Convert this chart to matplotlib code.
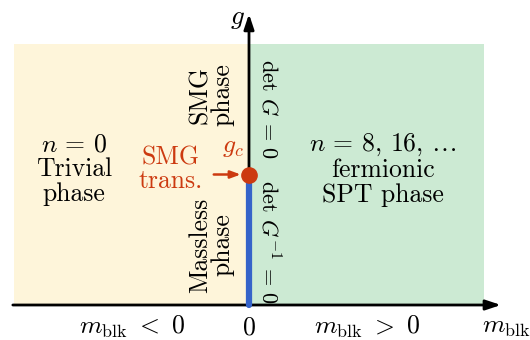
import matplotlib
matplotlib.use("Agg")
import matplotlib.pyplot as plt
from matplotlib.patches import Rectangle

plt.rcParams['font.family'] = 'serif'
plt.rcParams['font.serif'] = ['cmr10']
plt.rcParams['mathtext.fontset'] = 'cm'
plt.rcParams['axes.unicode_minus'] = False

# data (diagram coordinates)
m_range = [-1.0, 1.0]          # extent of m_blk region
g_top = 1.0                    # extent of g region
g_c = 0.5                      # SMG transition point
region_labels = ["$n$ = 0\nTrivial\nphase", "$n$ = 8, 16, $\\ldots$\nfermionic\nSPT phase"]
region_colors = ["#FEF5DA", "#CCEAD3"]
tick_labels = ["$m_{\\rm blk}\\ <\\ 0$", "0", "$m_{\\rm blk}\\ >\\ 0$"]

fig = plt.figure(figsize=(5.3, 3.4), dpi=100)
ax = fig.add_axes([0, 0, 1, 1])
ax.set_xlim(-249/235, (530-249)/235)
ax.set_ylim(-35/261, 305/261)
ax.axis('off')

fs = 18.5
orange = "#CC3A10"
blue = "#3563C9"

ax.add_patch(Rectangle((m_range[0], 0), -m_range[0], g_top, color=region_colors[0], lw=0, zorder=0))
ax.add_patch(Rectangle((0, 0), m_range[1], g_top, color=region_colors[1], lw=0, zorder=0))

# axes arrows
ax.annotate("", xy=(1.072, 0), xytext=(m_range[0] - 0.005, 0),
            arrowprops=dict(arrowstyle="-|>,head_length=0.9,head_width=0.3", lw=2, color="black",
                            shrinkA=0, shrinkB=0), zorder=3)
ax.annotate("", xy=(0, 1.115), xytext=(0, 0),
            arrowprops=dict(arrowstyle="-|>,head_length=0.9,head_width=0.3", lw=2, color="black",
                            shrinkA=0, shrinkB=0), zorder=3)

# massless line and g_c point
ax.plot([0, 0], [0, g_c], color=blue, lw=4.5, solid_capstyle='round', zorder=4)
ax.plot([0], [g_c], 'o', color=orange, ms=11, zorder=5)
ax.annotate("", xy=(-0.035, g_c), xytext=(-0.15, g_c),
            arrowprops=dict(arrowstyle="-|>,head_length=0.6,head_width=0.22", lw=1.8, color=orange,
                            shrinkA=0, shrinkB=0), zorder=5)

# region texts
ax.text(-0.745, 0.52, region_labels[0], ha='center', va='center', fontsize=fs, linespacing=1.05)
ax.text(0.57, 0.52, region_labels[1], ha='center', va='center', fontsize=fs, linespacing=1.05)

ax.text(-0.16, 0.805, "SMG\nphase", rotation=90, ha='center', va='center', fontsize=fs, linespacing=0.9)
ax.text(-0.16, 0.23, "Massless\nphase", rotation=90, ha='center', va='center', fontsize=fs, linespacing=0.9)

ax.text(0.085, 0.75, "det $G$ = 0", rotation=-90, ha='center', va='center', fontsize=16)
ax.text(0.085, 0.24, "det $G^{-1}$ = 0", rotation=-90, ha='center', va='center', fontsize=16)

ax.text(-0.335, 0.52, "SMG\ntrans.", ha='center', va='center', fontsize=fs, color=orange, linespacing=0.95)
ax.text(-0.07, 0.56, "$g_c$", ha='center', va='bottom', fontsize=fs, color=orange)

# axis labels
ax.text(-0.05, 1.095, "$g$", ha='center', va='center', fontsize=fs + 1)
ax.text(1.095, -0.085, "$m_{\\rm blk}$", ha='center', va='center', fontsize=fs)
for x, lab in zip([-0.495, 0.0, 0.503], tick_labels):
    ax.text(x, -0.085, lab, ha='center', va='center', fontsize=fs)

fig.savefig("out.png", dpi=100)
